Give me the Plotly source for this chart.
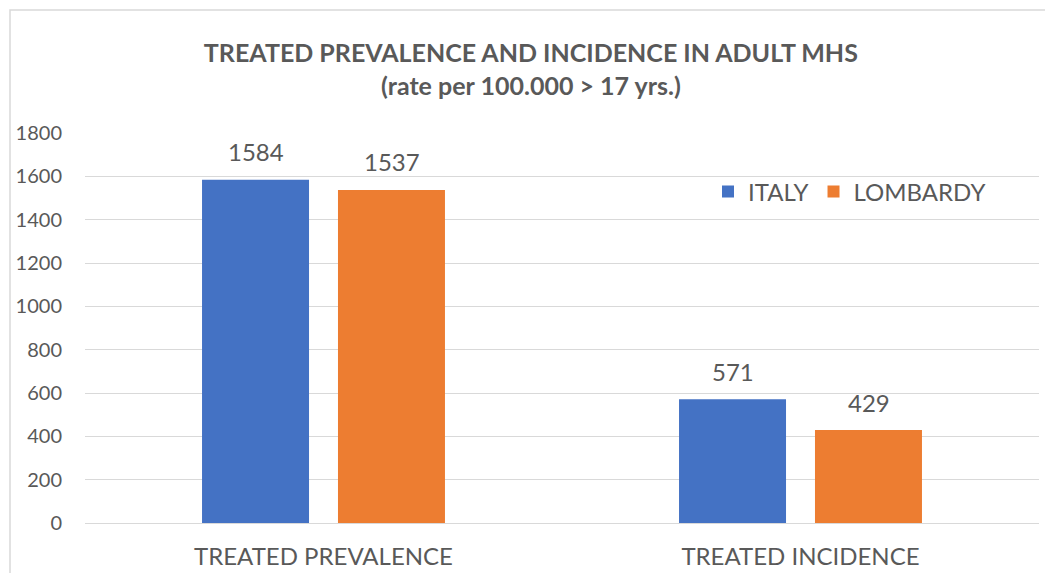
import plotly.graph_objects as go

categories = ["TREATED PREVALENCE", "TREATED INCIDENCE"]
italy = [1584, 571]
lombardy = [1537, 429]
series_names = ["ITALY", "LOMBARDY"]
y_ticks = [0, 200, 400, 600, 800, 1000, 1200, 1400, 1600, 1800]

colors = ["#4472C4", "#ED7D31"]
txt = "#595959"
FONT = "Lato"

W, H = 1045, 573
L, R, T, B = 85, 6, 133, 50

fig = go.Figure()
for name, vals, c in zip(series_names, [italy, lombardy], colors):
    fig.add_trace(go.Bar(x=categories, y=vals, name=name, marker_color=c,
                         marker_line_width=0))

# data labels above bars
offsets = [-68, 68]
for vals, dx in zip([italy, lombardy], offsets):
    for cat, v in zip(categories, vals):
        fig.add_annotation(x=cat, y=v, text=str(v), showarrow=False,
                           xshift=dx, yshift=28,
                           font=dict(family=FONT, size=24, color=txt))

pw = W - L - R
ph = H - T - B
fig.add_shape(type="rect", xref="paper", yref="paper",
              x0=(10 - L) / pw, x1=(W + 20 - L) / pw,
              y0=-(B + 20) / ph, y1=(H - B - 10) / ph,
              line=dict(color="#D9D9D9", width=1.5), fillcolor="rgba(0,0,0,0)",
              layer="below")

fig.update_layout(
    width=W, height=H,
    margin=dict(l=L, r=R, t=T, b=B, pad=0, autoexpand=False),
    paper_bgcolor="white", plot_bgcolor="white",
    barmode="group", bargap=0.43, bargroupgap=0.213,
    title=dict(text="<b>TREATED PREVALENCE AND INCIDENCE IN ADULT MHS</b><br><b>(rate per 100.000 > 17 yrs.)</b>",
               x=0.508, xanchor="center", y=1 - 62 / H, yanchor="middle",
               font=dict(family=FONT, size=25, color=txt)),
    legend=dict(orientation="h", x=(708 - L) / pw, xanchor="left",
                y=(H - B - 192) / ph, yanchor="middle",
                font=dict(family=FONT, size=24, color=txt),
                bgcolor="rgba(0,0,0,0)"),
    showlegend=True,
)
fig.update_yaxes(range=[0, 1800], tickvals=y_ticks, showgrid=True, automargin=False,
                 gridcolor="#D9D9D9", gridwidth=1.3, zeroline=False,
                 showline=False, ticks="outside", ticklen=18, tickcolor="rgba(0,0,0,0)",
                 tickfont=dict(family=FONT, size=20, color=txt))
fig.update_xaxes(showline=True, linecolor="#D9D9D9", linewidth=1.3, automargin=False,
                 ticks="outside", ticklen=12, tickcolor="rgba(0,0,0,0)",
                 tickfont=dict(family=FONT, size=24, color=txt))

fig.write_html("out.html")
